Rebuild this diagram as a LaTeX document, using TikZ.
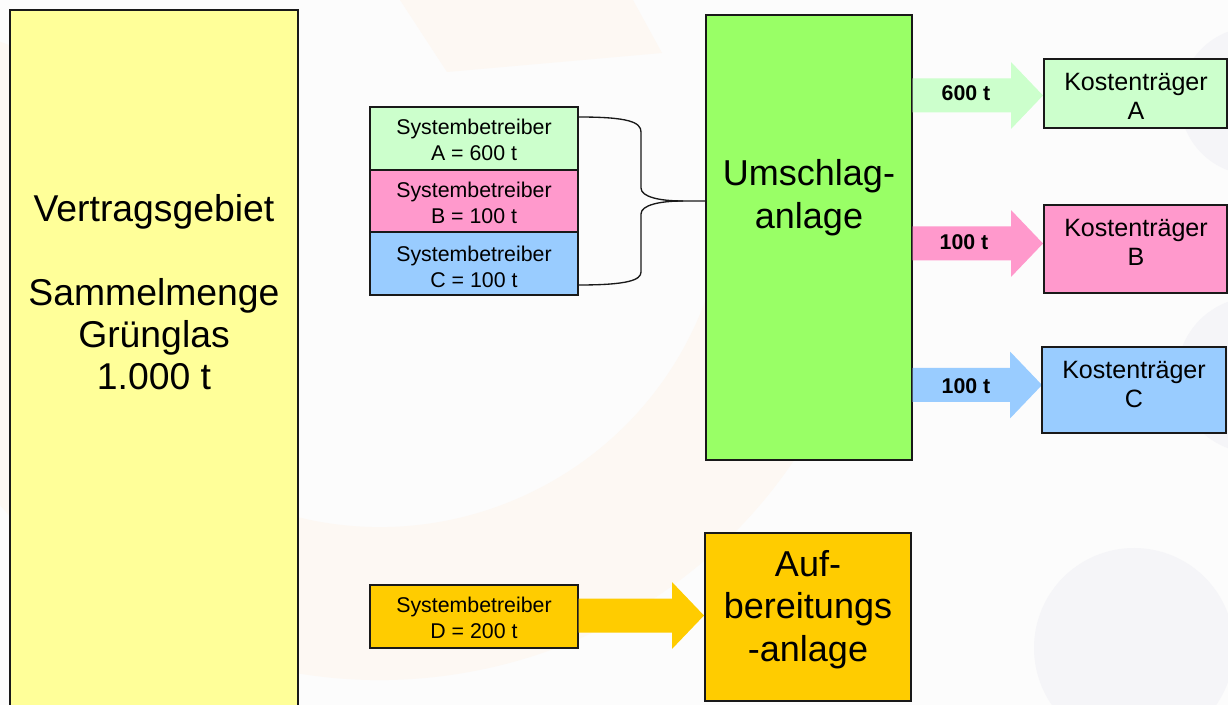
\documentclass[tikz,border=0pt]{standalone}
\usepackage{fontspec}
\setmainfont{Liberation Sans}
\usetikzlibrary{fit,calc}

\definecolor{bg}{RGB}{252,252,252}
\definecolor{wmorange}{RGB}{253,248,243}
\definecolor{wmgrey}{RGB}{245,245,248}
\definecolor{areayellow}{RGB}{255,255,153}
\definecolor{lgreen}{RGB}{204,255,204}
\definecolor{lpink}{RGB}{255,153,204}
\definecolor{lblue}{RGB}{153,204,255}
\definecolor{umgreen}{RGB}{153,255,102}
\definecolor{gold}{RGB}{255,204,0}

% broad block arrow from the x of #1 to the tip #2, filled with #3
\newcommand\fatarrow[3]{%
  \fill[#3] let \p1=(#1), \p2=(#2) in
    (\x1,\y2+12.75pt) -- (\x2-24pt,\y2+12.75pt) -- (\x2-24pt,\y2+25.1pt)
    -- (\x2,\y2) -- (\x2-24pt,\y2-25.1pt) -- (\x2-24pt,\y2-12.75pt)
    -- (\x1,\y2-12.75pt) -- cycle;}

\begin{document}
\begin{tikzpicture}[x=0.75pt,y=-0.75pt,
  box/.style={draw=black!90,line width=1.1pt,inner sep=0pt},
  sbtext/.style={font=\fontsize{16pt}{19.5pt}\selectfont,align=center,inner sep=0pt},
  kttext/.style={font=\fontsize{18.8pt}{21.75pt}\selectfont,align=center,inner sep=0pt},
  bigtext/.style={font=\fontsize{27pt}{32pt}\selectfont,align=center,inner sep=0pt},
  qty/.style={font=\bfseries\fontsize{16pt}{19pt}\selectfont,inner sep=0pt},
  brace/.style={line width=1pt,black!90}]
\useasboundingbox (0,0) rectangle (1228,705);
\clip (0,0) rectangle (1228,705);
\fill[bg] (0,0) rectangle (1228,705);

% faint background emblem
\fill[wmorange] ($(380,180)+(-10:500)$) arc[start angle=-10,end angle=200,radius=500]
  -- ($(380,180)+(200:347)$) arc[start angle=200,end angle=-10,radius=347] -- cycle;
\fill[wmorange] (400,0) -- (633,0) -- (662,53) -- (447,72) -- cycle;
\fill[wmgrey] (1254,101) circle[radius=74];
\fill[wmgrey] (1255,375) circle[radius=78];
\fill[wmgrey] (1134,648) circle[radius=100];

% collection area
\node[box,fill=areayellow,fit={(10,10) (298,720)}] (V) {};
\node[font=\fontsize{28pt}{31.5pt}\selectfont,align=center,inner sep=0pt] (Vt) at (154,292)
  {Vertragsgebiet\\[31.5pt]Sammelmenge\\Grünglas\\1.000 t};

% system operators
\node[box,fill=lgreen,fit={(370,107) (578,170)}] (SA) {};
\node[sbtext] (SAt) at (474,140) {Systembetreiber\\A = 600 t};
\node[box,fill=lpink,fit={(370,170) (578,232)}] (SB) {};
\node[sbtext] (SBt) at (474,203) {Systembetreiber\\B = 100 t};
\node[box,fill=lblue,fit={(370,232) (578,295)}] (SC) {};
\node[sbtext] (SCt) at (474,266.5) {Systembetreiber\\C = 100 t};
\node[box,fill=gold,fit={(370,585) (578,648)}] (SD) {};
\node[sbtext] (SDt) at (474,617.5) {Systembetreiber\\D = 200 t};

% plants
\node[box,fill=umgreen,fit={(706,15) (912,460)}] (U) {};
\node[bigtext] (Ut) at (809,198) {Umschlag-\\anlage};
\node[box,fill=gold,fit={(705,533) (911,701)}] (AB) {};
\node[bigtext] (ABt) at (808,609.5) {Auf-\\bereitungs\\-anlage};

% arrow tips
\coordinate (tA) at (1043,95.5);
\coordinate (tB) at (1043,243.5);
\coordinate (tC) at (1042,385);
\coordinate (tD) at (704,615.5);

% block arrows
\fatarrow{U.east}{tA}{lgreen}
\fatarrow{U.east}{tB}{lpink}
\fatarrow{U.east}{tC}{lblue}
\fatarrow{SD.east}{tD}{gold}
\node[qty] (qA) at (966,93) {600 t};
\node[qty] (qB) at (964,242) {100 t};
\node[qty] (qC) at (966,386) {100 t};

% cost units
\node[box,fill=lgreen,fit={(1044,59) (1227,128)}] (KA) {};
\node[kttext] (KAt) at (1136,96) {Kostenträger\\A};
\node[box,fill=lpink,fit={(1044,205) (1227,293)}] (KB) {};
\node[kttext] (KBt) at (1136,242.5) {Kostenträger\\B};
\node[box,fill=lblue,fit={(1042,347) (1226,433)}] (KC) {};
\node[kttext] (KCt) at (1134,384.5) {Kostenträger\\C};

% brace joining operators A to C into the transfer plant
\coordinate (bt) at (SA.east |- 0,117);
\coordinate (bb) at (SC.east |- 0,285);
\coordinate (bm) at (683,201);
\draw[brace] (bt) .. controls (628,117) and (641,122) .. (641,132) -- (641,188)
  .. controls (641,197) and (660,201) .. (bm) -- (U.west |- bm);
\draw[brace] (bb) .. controls (628,285) and (641,280) .. (641,272) -- (641,214)
  .. controls (641,205) and (660,201) .. (bm);
\end{tikzpicture}
\end{document}
